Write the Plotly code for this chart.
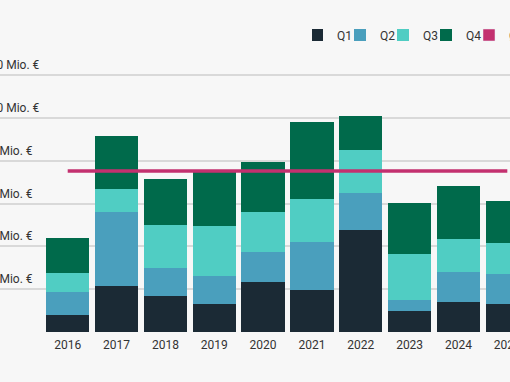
import plotly.graph_objects as go

years = ["2016", "2017", "2018", "2019", "2020", "2021", "2022", "2023", "2024", "2025"]
q1 = [8.1, 21.4, 16.7, 13.1, 23.2, 19.8, 47.5, 9.7, 13.9, 12.9]
q2 = [10.5, 34.9, 13.2, 13.3, 14.0, 22.5, 17.7, 5.4, 14.0, 14.4]
q3 = [9.0, 10.6, 20.1, 23.1, 19.1, 20.0, 20.0, 21.5, 15.8, 14.3]
q4 = [16.3, 24.7, 21.4, 25.6, 23.0, 36.1, 15.6, 23.7, 24.7, 19.9]
avg_value = 75.3
tick_vals = [20, 40, 60, 80, 100, 120]
tick_labels = ["20 Mio. €", "40 Mio. €", "60 Mio. €", "80 Mio. €", "100 Mio. €", "120 Mio. €"]

colors = {"Q1": "#1b2a35", "Q2": "#4a9fbd", "Q3": "#50cdc3", "Q4": "#006a4b", "avg": "#c3306f"}
FONT = "Roboto, Arial, sans-serif"

fig = go.Figure()
for name, vals in [("Q1", q1), ("Q2", q2), ("Q3", q3), ("Q4", q4)]:
    fig.add_trace(go.Bar(x=years, y=vals, name=name, marker=dict(color=colors[name], line=dict(width=0)),
                         hoverinfo="x+y+name"))

fig.add_trace(go.Scatter(x=years, y=[avg_value] * len(years), mode="lines", name="Ø",
                         line=dict(color=colors["avg"], width=3.5), showlegend=False, legendgroup="avg"))
fig.add_trace(go.Bar(x=[None], y=[None], name="Ø", marker=dict(color=colors["avg"]), legendgroup="avg"))

for v, t in zip(tick_vals, tick_labels):
    fig.add_annotation(x=-19 / 510, xref="paper", xanchor="left", y=v, yref="y", yanchor="bottom",
                       yshift=1, text=t, showarrow=False, font=dict(family=FONT, size=12, color="#333333"))

fig.update_layout(
    width=510, height=382,
    barmode="stack", bargap=0.114,
    paper_bgcolor="#f7f7f7", plot_bgcolor="#f7f7f7",
    margin=dict(l=0, r=0, t=50, b=49.5, autoexpand=False),
    font=dict(family=FONT, size=12, color="#333333"),
    legend=dict(orientation="h", xref="paper", x=312 / 510, xanchor="left", yref="container",
                y=1 - 35 / 382, yanchor="middle", font=dict(size=12, color="#333333"),
                traceorder="normal", itemwidth=30, indentation=-15, entrywidth=13, entrywidthmode="pixels",
                bgcolor="rgba(0,0,0,0)"),
    xaxis=dict(range=[-1.386, 9.055], showgrid=False, zeroline=False, showline=False, ticks="",
               tickfont=dict(family=FONT, size=12, color="#333333"), ticklabelstandoff=4),
    yaxis=dict(range=[0, 131.9], tickvals=[0] + tick_vals, showticklabels=False, gridcolor="#d9d9d9",
               gridwidth=1.5, zeroline=False, showline=False),
    showlegend=True,
)

fig.write_html("out.html", config={"displayModeBar": False},
               post_script="document.body.style.margin='0';document.body.style.overflow='hidden';")
